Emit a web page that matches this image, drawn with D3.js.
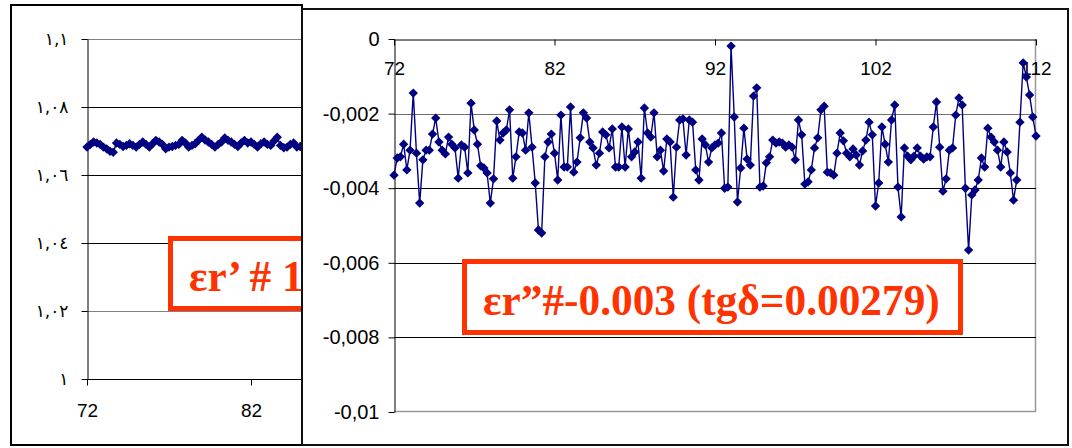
<!DOCTYPE html>
<html><head><meta charset="utf-8">
<script src="https://cdn.jsdelivr.net/npm/d3@7"></script>
<style>body{margin:0;background:#fff} svg{display:block}</style>
</head><body><svg id="c" width="1072" height="448"></svg>
<script>
// ---------- data ----------
const freqStart = 72, freqStep = 0.2;           // sampling grid of the frequency axis
const leftXTicks = [72, 82];
const leftYTicks = [1, 1.02, 1.04, 1.06, 1.08, 1.1];
const leftYLabels = ["١", "١,٠٢", "١,٠٤", "١,٠٦", "١,٠٨", "١,١"];
const leftValues = [1.0682,1.0690,1.0697,1.0694,1.0690,1.0682,1.0677,1.0670,1.0667,1.0694,
  1.0690,1.0684,1.0687,1.0692,1.0687,1.0682,1.0690,1.0697,1.0690,1.0682,
  1.0692,1.0702,1.0697,1.0690,1.0677,1.0682,1.0684,1.0687,1.0690,1.0702,
  1.0694,1.0682,1.0687,1.0692,1.0702,1.0711,1.0703,1.0697,1.0690,1.0682,
  1.0690,1.0697,1.0709,1.0702,1.0697,1.0690,1.0684,1.0694,1.0702,1.0694,
  1.0697,1.0690,1.0682,1.0692,1.0697,1.0690,1.0687,1.0700,1.0711,1.0687,
  1.0680,1.0682,1.0690,1.0694,1.0682,1.0684];
const rightXTicks = [72, 82, 92, 102, 112];
const rightYTicks = [0, -0.002, -0.004, -0.006, -0.008, -0.01];
const rightYLabels = ["0", "-0,002", "-0,004", "-0,006", "-0,008", "-0,01"];
const rightValues = [
  -0.00365,-0.00319,-0.00316,-0.00282,-0.00351,-0.00298,-0.00145,-0.00306,-0.0044,-0.00324,
  -0.00298,-0.00298,-0.00255,-0.00212,-0.00276,-0.00298,-0.00308,-0.00263,-0.00282,-0.00292,
  -0.00373,-0.00284,-0.0029,-0.00359,-0.00172,-0.00244,-0.00282,-0.0034,-0.00346,-0.00359,
  -0.0044,-0.00375,-0.0022,-0.00271,-0.00252,-0.00244,-0.0019,-0.00373,-0.00316,-0.00249,
  -0.00252,-0.00298,-0.00198,-0.0029,-0.00386,-0.00512,-0.0052,-0.00316,-0.00276,-0.00255,
  -0.00306,-0.00378,-0.00204,-0.00343,-0.00343,-0.00182,-0.00357,-0.0033,-0.00265,-0.00198,
  -0.00212,-0.00276,-0.00292,-0.00338,-0.00306,-0.00249,-0.00257,-0.00292,-0.00241,-0.00343,
  -0.00343,-0.00236,-0.00343,-0.00241,-0.00316,-0.00303,-0.00276,-0.00373,-0.00185,-0.00252,
  -0.00263,-0.00198,-0.00316,-0.00298,-0.00354,-0.00268,-0.00276,-0.00424,-0.0029,-0.00217,
  -0.00214,-0.00311,-0.00217,-0.00223,-0.00351,-0.00378,-0.00268,-0.00284,-0.0033,-0.00292,
  -0.00284,-0.00279,-0.00252,-0.004,-0.00397,-0.00019,-0.00209,-0.00437,-0.00346,-0.00239,
  -0.00322,-0.00338,-0.00153,-0.00131,-0.00397,-0.00394,-0.00332,-0.00316,-0.00271,-0.00279,
  -0.00276,-0.00279,-0.0029,-0.00284,-0.0029,-0.00324,-0.00217,-0.00257,-0.00389,-0.00383,
  -0.00351,-0.00292,-0.00265,-0.0019,-0.0018,-0.00357,-0.00359,-0.00365,-0.00306,-0.00252,
  -0.00273,-0.00306,-0.00316,-0.00295,-0.00311,-0.00338,-0.003,-0.00271,-0.00223,-0.00257,
  -0.00448,-0.00386,-0.00236,-0.00282,-0.0033,-0.00217,-0.00177,-0.00397,-0.00477,-0.00292,
  -0.00314,-0.00324,-0.00314,-0.00292,-0.00314,-0.00322,-0.00316,-0.00316,-0.00236,-0.00169,
  -0.0029,-0.00408,-0.00375,-0.00298,-0.00292,-0.00204,-0.00158,-0.00177,-0.004,-0.00566,
  -0.00418,-0.00405,-0.00378,-0.00319,-0.00343,-0.00239,-0.00263,-0.00276,-0.00298,-0.00343,
  -0.00276,-0.00303,-0.00359,-0.00432,-0.00378,-0.00223,-0.00064,-0.00102,-0.0015,-0.00209,
  -0.0026];
const leftLabelText = "εr’ # 1";
const rightLabelText = "εr”#-0.003 (tgδ=0.00279)";

// ---------- drawing ----------
const svg = d3.select("#c");
const navy = "#000080", red = "#FF3300";
const tickFont = "'Liberation Sans', Arial, sans-serif";
const leftPts = leftValues.map((v, i) => ({x: freqStart + freqStep * i, y: v}));
const rightPts = rightValues.map((v, i) => ({x: freqStart + freqStep * i, y: v}));
const diamond = d3.symbol().type(d3.symbolSquare).size(44);

// ===== left chart =====
const L = svg.append("g");
L.append("rect").attr("x", 11).attr("y", 5).attr("width", 291).attr("height", 440)
  .attr("fill", "#fff").attr("stroke", "#000").attr("stroke-width", 2);
const lx = d3.scaleLinear().domain([72, 112]).range([87, 743]);
const ly = d3.scaleLinear().domain([1, 1.1]).range([379, 39]);
L.append("g").selectAll("line").data(leftYTicks.filter(t => t > 1)).join("line")
  .attr("x1", 87).attr("x2", 302)
  .attr("y1", d => Math.round(ly(d)) + 0.5).attr("y2", d => Math.round(ly(d)) + 0.5)
  .attr("stroke", d => (d === 1.1 || d === 1.02) ? "#808080" : "#000").attr("stroke-width", 1);
const lyAxis = L.append("g").attr("transform", "translate(87.5,0)")
  .call(d3.axisLeft(ly).tickValues(leftYTicks).tickSize(6).tickPadding(13).tickSizeOuter(0)
    .tickFormat((d, i) => leftYLabels[i]));
lyAxis.selectAll("text").attr("font-family", "'DejaVu Sans', sans-serif").attr("font-size", 17)
  .attr("letter-spacing", 3).attr("fill", "#000");
const lxAxis = L.append("g").attr("transform", "translate(0,379.5)")
  .call(d3.axisBottom(lx).tickValues(leftXTicks).tickSize(6).tickPadding(18).tickSizeOuter(0));
lxAxis.selectAll("text").attr("font-family", tickFont).attr("font-size", 19).attr("fill", "#000");
lxAxis.select(".domain").attr("d", "M87,0H302");
[lyAxis, lxAxis].forEach(a => a.selectAll("path,line").attr("stroke", "#000"));
L.append("path").datum(leftPts).attr("fill", "none").attr("stroke", navy).attr("stroke-width", 1.5)
  .attr("d", d3.line().x(d => lx(d.x)).y(d => ly(d.y)));
L.append("g").selectAll("path").data(leftPts).join("path")
  .attr("transform", d => `translate(${lx(d.x)},${ly(d.y)}) rotate(45)`)
  .attr("d", diamond).attr("fill", navy);
L.append("rect").attr("x", 170.5).attr("y", 238.5).attr("width", 200).attr("height", 70)
  .attr("fill", "#fff").attr("stroke", red).attr("stroke-width", 5);
const lText = L.append("text").attr("x", 189).attr("y", 291).text(leftLabelText)
  .attr("font-family", "'Liberation Serif', 'Times New Roman', serif").attr("font-weight", "bold")
  .attr("font-size", 40).attr("fill", red);

// ===== right chart =====
const R = svg.append("g");
R.append("rect").attr("x", 302).attr("y", 9).attr("width", 766).attr("height", 436)
  .attr("fill", "#fff").attr("stroke", "#111").attr("stroke-width", 2);
const rx = d3.scaleLinear().domain([72, 112]).range([394, 1036]);
const ry = d3.scaleLinear().domain([-0.01, 0]).range([412, 39]);
// plot border (right & bottom)
R.append("line").attr("x1", 1035.5).attr("x2", 1035.5).attr("y1", 39).attr("y2", 412)
  .attr("stroke", "#999").attr("stroke-width", 1.5);
R.append("line").attr("x1", 394).attr("x2", 1036).attr("y1", 411.5).attr("y2", 411.5)
  .attr("stroke", "#999").attr("stroke-width", 1.5);
R.append("g").selectAll("line").data(rightYTicks.filter(t => t < 0 && t > -0.01)).join("line")
  .attr("x1", 394).attr("x2", 1036)
  .attr("y1", d => Math.round(ry(d)) + 0.5).attr("y2", d => Math.round(ry(d)) + 0.5)
  .attr("stroke", d => d === -0.002 ? "#707070" : "#000").attr("stroke-width", 1);
const ryAxis = R.append("g").attr("transform", "translate(394.5,0)")
  .call(d3.axisLeft(ry).tickValues(rightYTicks).tickSize(6).tickPadding(9).tickSizeOuter(0)
    .tickFormat((d, i) => rightYLabels[i]));
ryAxis.selectAll("text").attr("font-family", tickFont).attr("font-size", 20).attr("fill", "#000");
const rxAxis = R.append("g").attr("transform", "translate(0,39.5)")
  .call(d3.axisBottom(rx).tickValues(rightXTicks).tickSize(6).tickPadding(16).tickSizeOuter(0));
rxAxis.selectAll("text").attr("font-family", tickFont).attr("font-size", 19).attr("fill", "#000");
[ryAxis, rxAxis].forEach(a => a.selectAll("path,line").attr("stroke", "#000"));
R.append("path").datum(rightPts).attr("fill", "none").attr("stroke", navy).attr("stroke-width", 1.4)
  .attr("d", d3.line().x(d => rx(d.x)).y(d => ry(d.y)));
R.append("g").selectAll("path").data(rightPts).join("path")
  .attr("transform", d => `translate(${rx(d.x)},${ry(d.y)}) rotate(45)`)
  .attr("d", diamond).attr("fill", navy);
R.append("rect").attr("x", 464.5).attr("y", 261.5).attr("width", 496).attr("height", 71)
  .attr("fill", "#fff").attr("stroke", red).attr("stroke-width", 5);
const rText = R.append("text").attr("x", 483).attr("y", 315).text(rightLabelText)
  .attr("font-family", "'Liberation Serif', 'Times New Roman', serif").attr("font-weight", "bold")
  .attr("font-size", 40).attr("fill", red);
// fit label font size to the reference width
const w = rText.node().getComputedTextLength();
const fs = 40 * 457 / w;
rText.attr("font-size", fs);
lText.attr("font-size", fs);
</script></body></html>
